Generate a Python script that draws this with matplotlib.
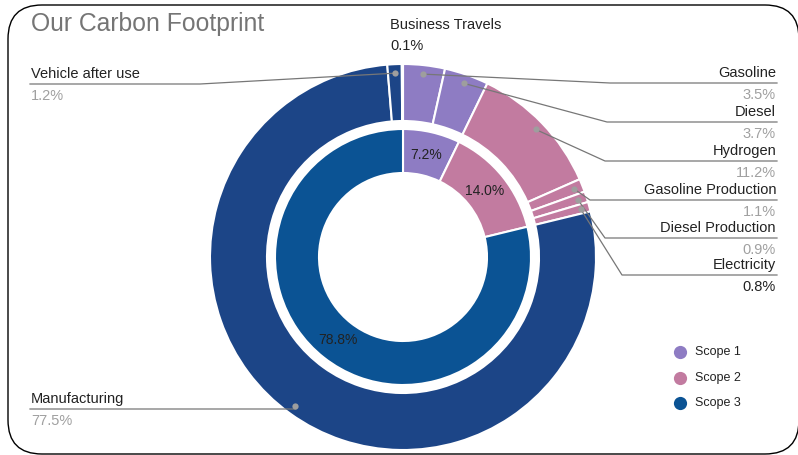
import numpy as np
import matplotlib.pyplot as plt
from matplotlib.patches import FancyBboxPatch

plt.rcParams['font.family'] = ['Liberation Sans', 'DejaVu Sans']

# outer ring: individual sources, clockwise from 12 o'clock
sources = ['Gasoline', 'Diesel', 'Hydrogen', 'Gasoline Production',
           'Diesel Production', 'Electricity', 'Manufacturing',
           'Vehicle after use', 'Business Travels']
source_pct = [3.5, 3.7, 11.2, 1.1, 0.9, 0.8, 77.5, 1.2, 0.1]
source_scope = [1, 1, 2, 2, 2, 2, 3, 3, 3]

# inner ring: scope totals
scopes = ['Scope 1', 'Scope 2', 'Scope 3']
scope_pct = [7.2, 14.0, 78.8]

outer_col = {1: '#8E7CC3', 2: '#C27BA0', 3: '#1C4587'}
inner_col = ['#8E7CC3', '#C27BA0', '#0B5394']

W, H = 798, 455
cx, cy = 403, 257
R_out, R_in = 193, 128

fig = plt.figure(figsize=(W / 100, H / 100), dpi=100)
ax = fig.add_axes([0, 0, 1, 1])

wedges, _ = ax.pie(source_pct, radius=R_out, center=(cx, cy), startangle=-90,
                   counterclock=True, colors=[outer_col[s] for s in source_scope],
                   wedgeprops=dict(width=57, edgecolor='white', linewidth=1.5))
ax.pie(scope_pct, radius=R_in, center=(cx, cy), startangle=-90, counterclock=True,
       colors=inner_col, autopct='%.1f%%', pctdistance=0.82,
       textprops=dict(fontsize=10, color='#222222'),
       wedgeprops=dict(width=44, edgecolor='white', linewidth=1.5))

ax.set_xlim(0, W)
ax.set_ylim(H, 0)
ax.set_aspect('auto')
ax.axis('off')

# label placement: (side, underline y, elbow x)
label_pos = {
    'Gasoline': ('r', 83, 610),
    'Diesel': ('r', 122, 607),
    'Hydrogen': ('r', 161, 605),
    'Gasoline Production': ('r', 200, 590),
    'Diesel Production': ('r', 238, 605),
    'Electricity': ('r', 275, 622),
    'Manufacturing': ('l', 409, 296),
    'Vehicle after use': ('l', 84, 200),
}
dark_pct = {'Electricity', 'Business Travels'}
line_c = '#777777'
x_left, x_right = 30, 777

for w, name, val in zip(wedges, sources, source_pct):
    pc = '#222222' if name in dark_pct else '#a0a0a0'
    if name not in label_pos:
        ax.text(390, 29, name, fontsize=10.5, color='#222222', va='baseline')
        ax.text(390, 50, f'{val:.1f}%', fontsize=10.5, color=pc, va='baseline')
        continue
    side, ly, ex = label_pos[name]
    th = np.deg2rad((w.theta1 + w.theta2) / 2)
    dx, dy = cx + 184 * np.cos(th), cy + 184 * np.sin(th)
    if side == 'r':
        ax.plot([dx, ex, x_right], [dy, ly, ly], color=line_c, lw=0.9)
        tx, ha = x_right - 1, 'right'
    else:
        ax.plot([dx, ex, x_left], [dy, ly, ly], color=line_c, lw=0.9)
        tx, ha = x_left + 1, 'left'
    ax.plot(dx, dy, 'o', ms=4.5, color='#9e9e9e', mec='none')
    ax.text(tx, ly - 6, name, fontsize=10.5, color='#222222', ha=ha, va='baseline')
    ax.text(tx, ly + 16, f'{val:.1f}%', fontsize=10.5, color=pc, ha=ha, va='baseline')

# legend
for i, (s, c) in enumerate(zip(scopes, inner_col)):
    ly = 352 + i * 25.5
    ax.plot(680, ly, 'o', ms=9.5, color=c, mec='none')
    ax.text(695, ly, s, fontsize=9, color='#222222', va='center')

ax.text(31, 31, 'Our Carbon Footprint', fontsize=17.8, color='#757575', va='baseline')

frame = FancyBboxPatch((8, 5), 791, 449, boxstyle='round,pad=0,rounding_size=34',
                       fill=False, ec='black', lw=1.0, clip_on=False)
ax.add_patch(frame)

fig.savefig('out.png', dpi=100)
